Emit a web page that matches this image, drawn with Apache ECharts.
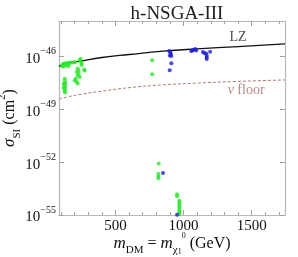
<!DOCTYPE html>
<html><head><meta charset="utf-8">
<script src="https://cdn.jsdelivr.net/npm/echarts@6/dist/echarts.min.js"></script>
<style>html,body{margin:0;padding:0;background:#fff}#c{width:298px;height:257px}</style>
</head><body><div id="c"></div>
<script>
// log10 of sigma_SI (cm^2) vs m_DM (GeV)
var lzMass = [85, 100, 150, 250, 400, 600, 850, 1100, 1400, 1745];
var lzExp  = [-46.58, -46.52, -46.40, -46.26, -46.07, -45.90, -45.71, -45.58, -45.45, -45.30];
var nuMass = [85, 150, 250, 400, 600, 850, 1100, 1350, 1745];
var nuExp  = [-48.43, -48.30, -48.15, -47.98, -47.78, -47.62, -47.52, -47.44, -47.34];

var greenMass = [105,112,119,127,134,141,149,156,163,171,119,141,156,193,204,
  237,244,251,251,244,222,229,215,229,222,237,270,273,207,200,215,222,
  127,127,130,127,130,127,127,130,119,119,769,769,
  817,815,815,815,952,952,969,969,969,969,969,969,969,969];
var greenExp = [-46.55,-46.46,-46.44,-46.41,-46.44,-46.38,-46.41,-46.38,-46.38,-46.35,-46.58,-46.52,-46.55,-46.35,-46.32,
  -46.21,-46.29,-46.38,-46.49,-46.15,-46.69,-46.80,-46.89,-46.97,-47.09,-47.17,-46.75,-46.80,-47.28,-47.37,-47.45,-47.54,
  -47.28,-47.40,-47.51,-47.62,-47.74,-47.85,-47.96,-48.05,-47.57,-47.79,-46.23,-47.02,
  -52.08,-52.66,-52.80,-52.92,-53.82,-53.93,-54.19,-54.30,-54.42,-54.53,-54.64,-54.76,-54.87,-54.95];

var blueMass = [895,903,906,899,910,910,898,1056,1071,1086,1093,1064,1142,1152,1166,1170,1170,1170,1195,849,952];
var blueExp  = [-45.70,-45.79,-45.87,-45.95,-45.98,-46.40,-46.79,-45.70,-45.64,-45.59,-45.67,-45.67,-45.76,-45.81,-45.84,-45.95,-46.07,-46.15,-45.74,-52.62,-54.98];

var xMajor = [500, 1000, 1500];
var xMinor = [100,200,300,400,600,700,800,900,1100,1200,1300,1400,1600,1700];
var yMajor = [-55, -52, -49, -46];

var annotations = [
  {name: 'LZ', mass: 1400, exp: -45.45},
  {name: 'nu', mass: 1460, exp: -47.47}
];

function zip(a, b) { return a.map(function (v, i) { return [v, b[i]]; }); }

var serif = '"Liberation Serif", "DejaVu Serif", serif';
var X0 = 85, X1 = 1745, Y0 = -55, Y1 = -44;
var frame = {show: true, lineStyle: {color: '#b8b8b8', width: 1.2}};

function xAx(pos, ticks, len, showLine, labels) {
  return {
    type: 'value', position: pos, min: X0, max: X1, gridIndex: 0,
    axisLine: showLine ? frame : {show: false},
    axisTick: {show: true, inside: true, length: len, customValues: ticks, lineStyle: {color: '#a0a0a0'}},
    axisLabel: labels ? {show: true, customValues: ticks, color: '#111', fontFamily: serif, fontSize: 15, margin: 4,
      formatter: function (v) { return String(v); }} : {show: false},
    splitLine: {show: false}
  };
}

var chart = echarts.init(document.getElementById('c'), null, {renderer: 'canvas'});
var xa0 = xAx('bottom', xMajor, 5, true, true);
xa0.name = '{it|m}{sub|DM} = {it|m}{sub|χ}{ss|1}{sup0|0} (GeV)';
xa0.nameLocation = 'middle';
xa0.nameGap = 17;
xa0.nameMoveOverlap = false;
xa0.nameTextStyle = {
  fontFamily: serif, fontSize: 16, color: '#111',
  rich: {
    it: {fontFamily: serif, fontStyle: 'italic', fontSize: 17, color: '#111', lineHeight: 22, verticalAlign: 'middle'},
    sub: {fontFamily: serif, fontSize: 11, color: '#111', verticalAlign: 'bottom', lineHeight: 16},
    ss: {fontFamily: serif, fontSize: 8, color: '#111', verticalAlign: 'bottom', lineHeight: 12},
    sup0: {fontFamily: serif, fontSize: 8, color: '#111', verticalAlign: 'top', lineHeight: 24}
  }
};

var option = {
  animation: false,
  backgroundColor: '#fff',
  title: {
    text: 'h-NSGA-III', left: 172, top: 0, textAlign: 'center',
    textStyle: {fontFamily: serif, fontWeight: 'normal', fontSize: 19, color: '#222'}
  },
  grid: {left: 59, right: 13, top: 21, bottom: 42, containLabel: false, outerBoundsMode: 'none'},
  xAxis: [
    xa0,
    xAx('bottom', xMinor, 3, false, false),
    xAx('top', xMajor, 5, true, false),
    xAx('top', xMinor, 3, false, false)
  ],
  yAxis: [
    {
      type: 'value', position: 'left', min: Y0, max: Y1,
      axisLine: frame,
      axisTick: {show: true, inside: true, length: 5, customValues: yMajor, lineStyle: {color: '#a0a0a0'}},
      axisLabel: {
        show: true, customValues: yMajor, margin: 3,
        formatter: function (v) { return '{b|10}{s|−' + Math.abs(v) + '}'; },
        rich: {
          b: {fontFamily: serif, fontSize: 15, color: '#111', lineHeight: 20, verticalAlign: 'bottom'},
          s: {fontFamily: serif, fontSize: 10, color: '#111', lineHeight: 20, verticalAlign: 'top'}
        }
      },
      splitLine: {show: false},
      name: '{it|σ}{sub|SI} (cm{sup|2})',
      nameLocation: 'middle', nameRotate: 90, nameGap: 36, nameMoveOverlap: false,
      nameTextStyle: {
        fontFamily: serif, fontSize: 16, color: '#111',
        rich: {
          it: {fontFamily: serif, fontStyle: 'italic', fontSize: 17, color: '#111', lineHeight: 22},
          sub: {fontFamily: serif, fontSize: 11, color: '#111', verticalAlign: 'bottom', lineHeight: 16},
          sup: {fontFamily: serif, fontSize: 11, color: '#111', verticalAlign: 'top', lineHeight: 26}
        }
      }
    },
    {
      type: 'value', position: 'right', min: Y0, max: Y1,
      axisLine: frame,
      axisTick: {show: true, inside: true, length: 5, customValues: yMajor, lineStyle: {color: '#a0a0a0'}},
      axisLabel: {show: false}, splitLine: {show: false}
    }
  ],
  series: [
    {
      type: 'line', name: 'LZ', data: zip(lzMass, lzExp), smooth: true, symbol: 'none',
      lineStyle: {color: '#111', width: 1.3}, z: 3
    },
    {
      type: 'line', name: 'nu floor', data: zip(nuMass, nuExp), smooth: true, symbol: 'none',
      lineStyle: {color: '#b07a70', width: 1, type: [3, 2]}, z: 3
    },
    {
      type: 'scatter', data: zip(greenMass, greenExp), symbol: 'circle', symbolSize: 4,
      itemStyle: {color: '#22ee22'}, z: 4
    },
    {
      type: 'scatter', data: zip(blueMass, blueExp), symbol: 'circle', symbolSize: 4,
      itemStyle: {color: '#1a1aee'}, z: 5
    },
    {
      type: 'scatter', symbolSize: 0, silent: true, z: 6,
      data: annotations.map(function (a) { return {name: a.name, value: [a.mass, a.exp]}; }),
      label: {
        show: true, position: 'top', distance: 2,
        formatter: function (p) { return p.name === 'LZ' ? '{lz|LZ}' : '{nu|ν} {fl|floor}'; },
        rich: {
          lz: {fontFamily: serif, fontSize: 14, color: '#222'},
          nu: {fontFamily: serif, fontStyle: 'italic', fontSize: 14, color: '#a56e64'},
          fl: {fontFamily: serif, fontSize: 14, color: '#a56e64'}
        }
      }
    }
  ]
};
// place nu floor label below the line
option.series[4].data[1].label = {position: 'bottom', distance: 1};
chart.setOption(option);
</script>
</body></html>
